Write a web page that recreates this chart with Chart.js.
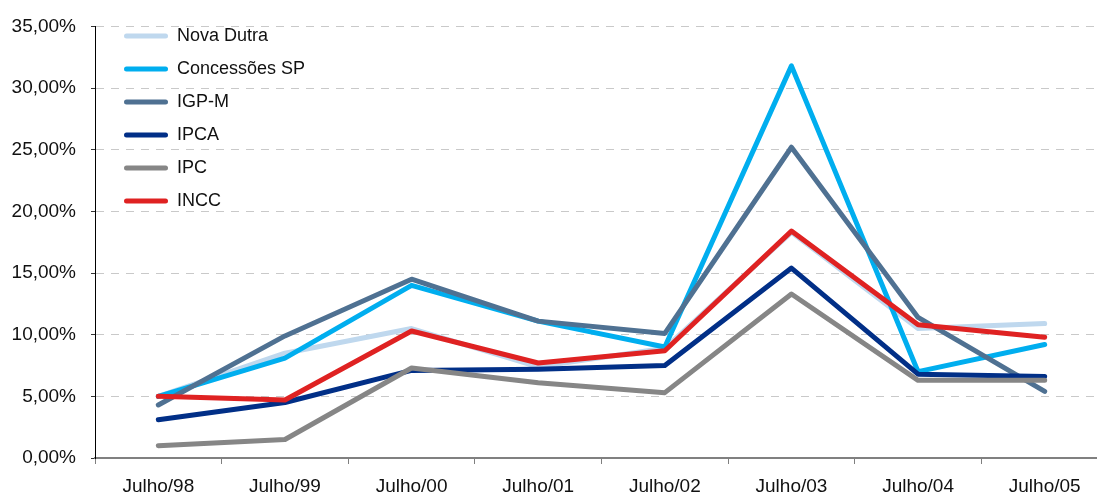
<!DOCTYPE html>
<html>
<head>
<meta charset="utf-8">
<script src="https://cdn.jsdelivr.net/npm/chart.js@4/dist/chart.umd.min.js"></script>
<style>
  html, body { margin: 0; padding: 0; background: #fff; overflow: hidden; }
  #wrap { position: relative; width: 1110px; height: 493px; }
</style>
</head>
<body>
<div id="wrap"><canvas id="chart"></canvas></div>
<script>
// categories
const labels = ['Julho/98', 'Julho/99', 'Julho/00', 'Julho/01', 'Julho/02', 'Julho/03', 'Julho/04', 'Julho/05'];

// series values (%)
const novaDutra   = [5.0, 8.5, 10.5, 7.4, 8.9, 18.3, 10.5, 10.9];
const concessoes  = [5.0, 8.1, 14.0, 11.1, 9.0, 31.8, 7.0, 9.2];
const igpm        = [4.3, 9.9, 14.5, 11.1, 10.1, 25.2, 11.4, 5.4];
const ipca        = [3.1, 4.5, 7.1, 7.2, 7.5, 15.4, 6.8, 6.6];
const ipc         = [1.0, 1.5, 7.3, 6.1, 5.3, 13.3, 6.3, 6.3];
const incc        = [5.0, 4.7, 10.3, 7.7, 8.7, 18.4, 10.8, 9.8];

const seriesNames = ['Nova Dutra', 'Concessões SP', 'IGP-M', 'IPCA', 'IPC', 'INCC'];
const seriesData = [novaDutra, concessoes, igpm, ipca, ipc, incc];
const seriesColors = ['#BFD8EE', '#00AEEF', '#4F7192', '#012F87', '#868686', '#DF2222'];

const tickFont = { family: "'Liberation Sans', Arial, sans-serif", size: 19 };
const legendFont = { family: "'Liberation Sans', Arial, sans-serif", size: 18 };

const datasets = seriesNames.map((name, i) => ({
    label: name,
    data: seriesData[i],
    borderColor: seriesColors[i],
    backgroundColor: seriesColors[i],
    borderWidth: 5,
    pointRadius: 0,
    tension: 0,
    fill: false,
    borderJoinStyle: 'round',
    borderCapStyle: 'round',
    // later series drawn on top, like the original
    order: seriesNames.length - 1 - i
}));

// move the legend to the top-left corner of the plot
const legendPlace = {
    id: 'legendPlace',
    afterLayout(chart) {
        const lg = chart.legend;
        lg.left = 109;
        lg.right = 420;
        lg.top = 12;
        lg.bottom = 440;
        lg.width = lg.right - lg.left;
        lg.height = lg.bottom - lg.top;
    }
};

const ctx = document.getElementById('chart').getContext('2d');
const chart = new Chart(ctx, {
    type: 'line',
    data: { labels: labels, datasets: datasets },
    options: {
        responsive: true,
        maintainAspectRatio: false,
        animation: false,
        layout: { padding: { top: 25, right: 2, bottom: 0, left: 0 } },
        plugins: {
            tooltip: { enabled: false },
            legend: {
                position: 'chartArea',
                align: 'start',
                labels: {
                    font: legendFont,
                    color: '#111',
                    boxWidth: 44,
                    boxHeight: 5,
                    padding: 15,
                    useBorderRadius: true,
                    borderRadius: 2.5,
                    sort: (a, b) => a.datasetIndex - b.datasetIndex,
                    generateLabels(c) {
                        return Chart.defaults.plugins.legend.labels.generateLabels(c).map(item => {
                            item.fillStyle = item.strokeStyle;
                            item.lineWidth = 0;
                            return item;
                        });
                    }
                }
            }
        },
        scales: {
            x: {
                offset: true,
                grid: {
                    offset: true,
                    drawOnChartArea: false,
                    tickLength: 6,
                    tickColor: '#7f7f7f',
                    tickWidth: 1
                },
                border: { color: '#808080', width: 2 },
                ticks: { font: tickFont, color: '#111', padding: 11, maxRotation: 0 },
                afterFit(scale) { scale.height = 35; }
            },
            y: {
                min: 0,
                max: 35,
                grid: {
                    color: '#c9c9c9',
                    lineWidth: 1,
                    tickColor: '#333',
                    tickLength: 4,
                    tickBorderDash: [],
                    drawTicks: true
                },
                border: { color: '#000', width: 1, dash: [8, 7] },
                ticks: {
                    stepSize: 5,
                    font: tickFont,
                    color: '#111',
                    padding: 15,
                    callback: v => v.toFixed(2).replace('.', ',') + '%'
                },
                afterFit(scale) { scale.width = 95; }
            }
        }
    },
    plugins: [legendPlace]
});
</script>
</body>
</html>
